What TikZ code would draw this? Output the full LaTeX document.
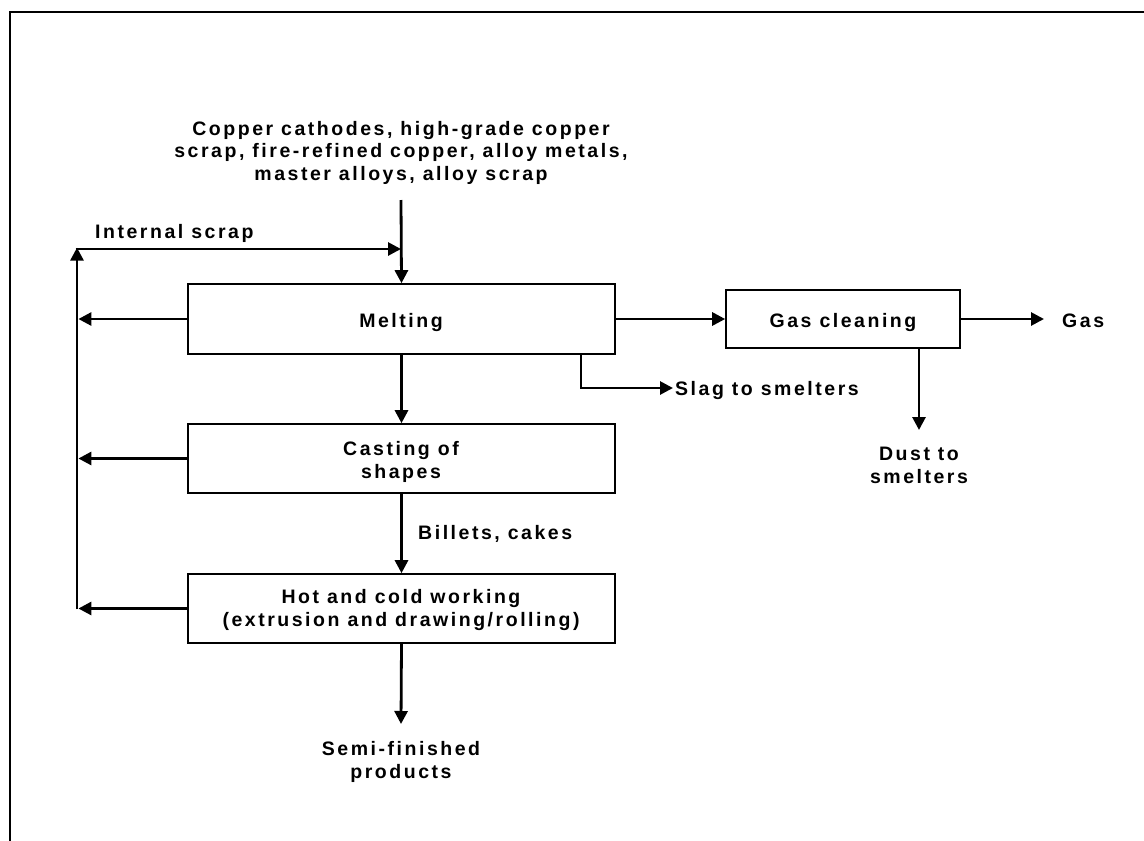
\documentclass[tikz,border=0pt]{standalone}
\usepackage{fontspec}
\setmainfont{Liberation Sans}[LetterSpace=13]
\usetikzlibrary{arrows.meta,calc}
\begin{document}
\begin{tikzpicture}[x=1pt,y=-1pt,
  every node/.style={font=\fontsize{19.5}{23}\selectfont\bfseries, align=center, inner sep=0pt},
  procbox/.style={draw, line width=1.6pt, minimum width=427pt, minimum height=69pt},
  lbl/.style={anchor=base},
  lblw/.style={anchor=base west},
  flow/.style={line width=2.8pt, -{Triangle[length=13pt,width=13pt]}},
  plain/.style={line width=2.8pt}]
\useasboundingbox (0,0) rectangle (1144,841);
% frame edges
\draw[line width=2pt] (10,841) -- (10,12) -- (1144,12);

% process boxes (labels are placed by the baseline of their last line)
\node[procbox, minimum height=70pt] (melt) at (401.5,319) {};
\node[procbox] (cast) at (401.5,458.5) {};
\node[procbox] (hot) at (401.5,608.5) {};
\node[procbox, minimum width=234pt, minimum height=58pt] (gasc) at (843,319) {};
\node[lbl] (meltT) at (401,327) {Melting};
\node[lbl] (castT) at (401,478) {Casting of\\shapes};
\node[lbl] (hotT) at (401,626) {Hot and cold working\\(extrusion and drawing/rolling)};
\node[lbl] (gascT) at (843,327) {Gas cleaning};

% feed materials
\node[lbl, font=\fontsize{19.5}{22.5}\selectfont\bfseries] (feed) at (401,180) {Copper cathodes, high-grade copper\\scrap, fire-refined copper, alloy metals,\\master alloys, alloy scrap};
\coordinate (feedend) at (401,200);
\coordinate (join) at (401,249);
\draw[flow] (feedend) -- (melt.north);

% internal scrap loop
\coordinate (loopTop) at (77,249);
\coordinate (loopBot) at (77,609.4);
\node[lblw] (isl) at (95,238) {Internal scrap};
\draw[flow] (loopBot) -- ($(loopTop)+(0,-1.4)$);
\draw[flow] ($(loopTop)+(-1.4,0)$) -- (join);
\draw[flow] (melt.west) -- ($(loopTop|-melt.west)+(1.4,0)$);
\draw[flow] (cast.west) -- ($(loopTop|-cast.west)+(1.4,0)$);
\draw[flow] (hot.west) -- ($(loopTop|-hot.west)+(1.4,0)$);

% main line
\draw[flow] (melt.south) -- (cast.north);
\draw[flow] (cast.south) -- (hot.north);
\node[lblw] (billets) at (418,539) {Billets, cakes};
\coordinate (semiTip) at (401,724);
\draw[flow] (hot.south) -- (semiTip);
\node[lbl] (semi) at (401,778) {Semi-finished\\products};

% slag
\coordinate (slagA) at (581,354);
\coordinate (slagB) at (581,388);
\coordinate (slagTip) at (673,388);
\draw[flow] (slagA) -- (slagB) -- (slagTip);
\node[lblw] (slag) at (675,395) {Slag to smelters};

% off-gas
\draw[flow] (melt.east) -- (gasc.west);
\coordinate (gasTip) at (1044,319);
\draw[flow] (gasc.east) -- (gasTip);
\node[lblw] (gas) at (1062,327) {Gas};
\coordinate (dustA) at (919,348);
\coordinate (dustTip) at (919,430);
\draw[flow] (dustA) -- (dustTip);
\node[lbl] (dust) at (919,483) {Dust to\\smelters};
\end{tikzpicture}
\end{document}
